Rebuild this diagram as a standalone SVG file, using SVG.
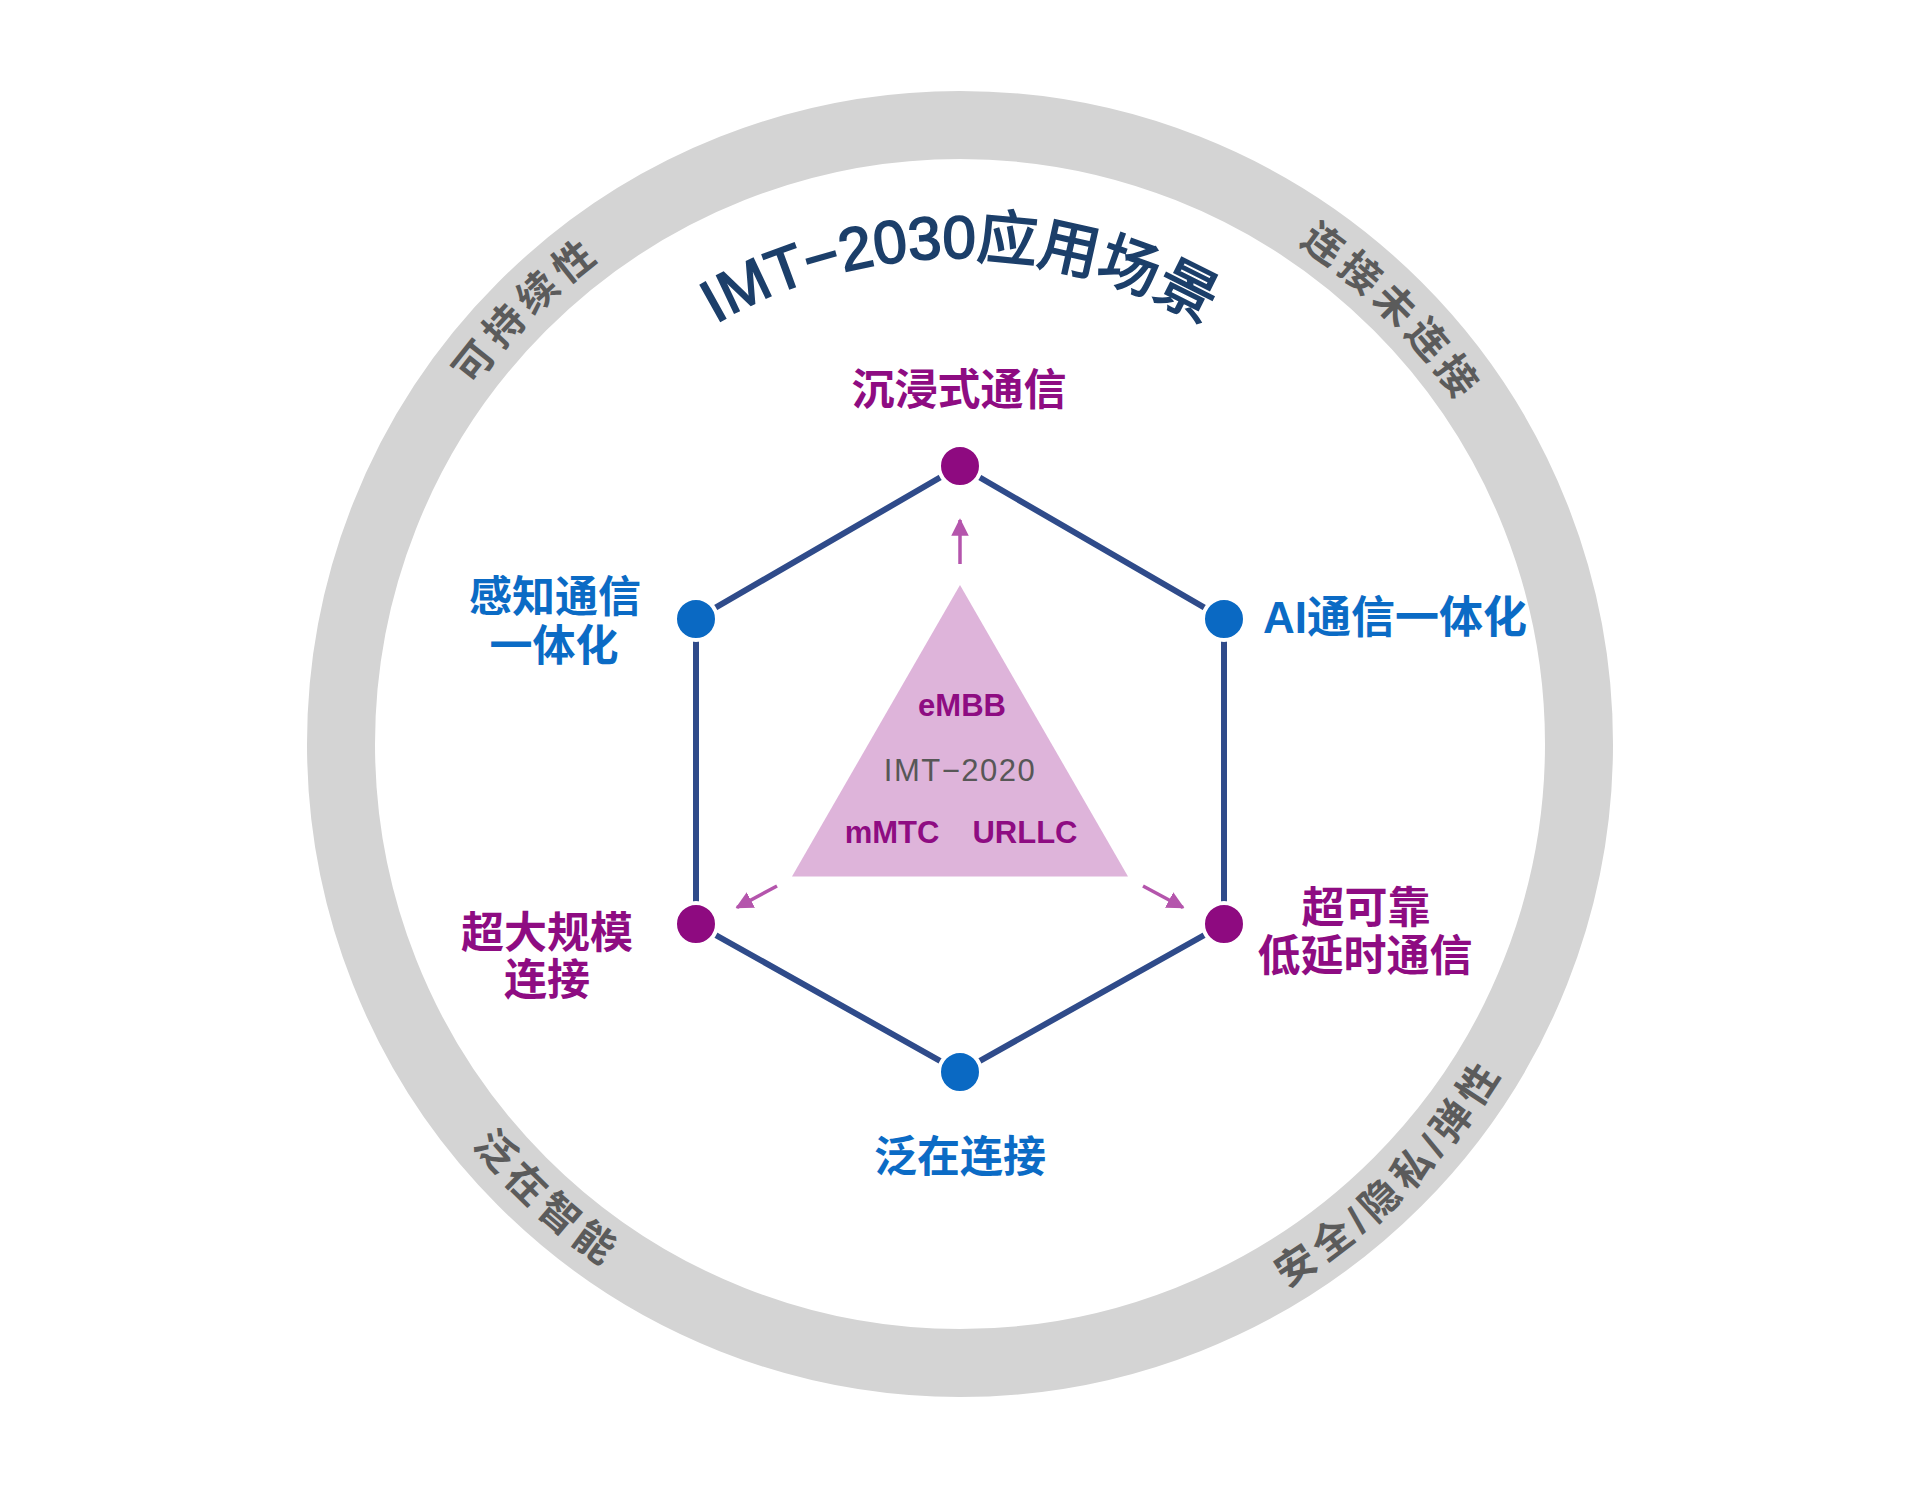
<svg xmlns="http://www.w3.org/2000/svg" width="1920" height="1500" viewBox="0 0 1920 1500">
<style>
  .f { font-family: "Liberation Sans", "Noto Sans CJK SC", sans-serif; }
  .ring-label { font-size: 40px; font-weight: bold; fill: #5B5B5B; letter-spacing: 6px; }
  .hex-label { font-size: 43px; font-weight: bold; text-anchor: middle; }
  .purple { fill: #8E0C82; }
  .blue { fill: #0B6BC5; }
  .edge { fill: none; stroke: #2F4B8A; stroke-width: 6; stroke-linejoin: miter; }
  .dot { stroke: #FFFFFF; stroke-width: 4; }
  .dot-p { fill: #8E0A80; }
  .dot-b { fill: #0A69C3; }
  .arrow { stroke: #B455AC; stroke-width: 3.5; fill: none; }
  .tri-text { font-size: 31px; text-anchor: middle; }
</style>
<defs>
  <marker id="ah" viewBox="0 0 10 10" refX="9" refY="5" markerWidth="5" markerHeight="5" markerUnits="strokeWidth" orient="auto">
    <path d="M0,0 L10,5 L0,10 Z" fill="#B455AC"/>
  </marker>
  <path id="p-title" d="M 539.1 501 A 486 486 0 0 1 1380.9 501"/>
  <path id="p-tl" d="M 358.3 691.4 A 604 604 0 0 1 907.4 142.3"/>
  <path id="p-tr" d="M 1012.6 142.3 A 604 604 0 0 1 1561.7 691.4"/>
  <path id="p-br" d="M 1015.3 1375.6 A 634 634 0 0 0 1591.6 799.3"/>
  <path id="p-bl" d="M 335.7 832.2 A 634 634 0 0 0 930.8 1377.3"/>
</defs>
<rect width="1920" height="1500" fill="#FFFFFF"/>

<g id="ring">
  <circle cx="960" cy="744" r="619" fill="none" stroke="#D4D4D4" stroke-width="68"/>
  <text class="f ring-label"><textPath href="#p-tl" startOffset="50%" text-anchor="middle">可持续性</textPath></text>
  <text class="f ring-label"><textPath href="#p-tr" startOffset="50%" text-anchor="middle">连接未连接</textPath></text>
  <text class="f ring-label"><textPath href="#p-br" startOffset="50%" text-anchor="middle">安全/隐私/弹性</textPath></text>
  <text class="f ring-label"><textPath href="#p-bl" startOffset="50%" text-anchor="middle">泛在智能</textPath></text>
</g>

<g id="title">
  <text class="f" font-size="60" fill="#1C3F6A" stroke="#1C3F6A" stroke-width="1.8"><textPath href="#p-title" startOffset="50%" text-anchor="middle">IMT−2030应用场景</textPath></text>
</g>

<g id="connectors">
  <polygon class="edge" points="960,466 1224,619 1224,924 960,1072 696,924 696,619"/>
  <line class="arrow" x1="960" y1="564" x2="960" y2="520" marker-end="url(#ah)"/>
  <line class="arrow" x1="777" y1="886" x2="737" y2="907.5" marker-end="url(#ah)"/>
  <line class="arrow" x1="1143" y1="886" x2="1183" y2="907.5" marker-end="url(#ah)"/>
</g>

<g id="imt2020">
  <polygon points="960,585 792,876.5 1128,876.5" fill="#DEB4DA"/>
  <text class="f tri-text purple" x="962" y="716" font-weight="bold">eMBB</text>
  <text class="f tri-text" x="960" y="781" fill="#575757" font-size="32" letter-spacing="1.5">IMT−2020</text>
  <text class="f tri-text purple" x="892" y="843" font-weight="bold">mMTC</text>
  <text class="f tri-text purple" x="1025" y="843" font-weight="bold">URLLC</text>
</g>

<g id="node-immersive">
  <circle class="dot dot-p" cx="960" cy="466" r="21"/>
  <text class="f hex-label purple" x="959" y="405">沉浸式通信</text>
</g>
<g id="node-ai">
  <circle class="dot dot-b" cx="1224" cy="619" r="21"/>
  <text class="f" x="1263" y="633" font-size="44" font-weight="bold" fill="#0B6BC5">AI通信一体化</text>
</g>
<g id="node-urllc">
  <circle class="dot dot-p" cx="1224" cy="924" r="21"/>
  <text class="f hex-label purple" x="1366" y="923">超可靠</text>
  <text class="f hex-label purple" x="1365" y="971">低延时通信</text>
</g>
<g id="node-ubiquitous">
  <circle class="dot dot-b" cx="960" cy="1072" r="21"/>
  <text class="f hex-label blue" x="960" y="1172">泛在连接</text>
</g>
<g id="node-mmtc">
  <circle class="dot dot-p" cx="696" cy="924" r="21"/>
  <text class="f hex-label purple" x="547" y="948">超大规模</text>
  <text class="f hex-label purple" x="547" y="995">连接</text>
</g>
<g id="node-sensing">
  <circle class="dot dot-b" cx="696" cy="619" r="21"/>
  <text class="f hex-label blue" x="555" y="612">感知通信</text>
  <text class="f hex-label blue" x="554" y="661">一体化</text>
</g>
</svg>
